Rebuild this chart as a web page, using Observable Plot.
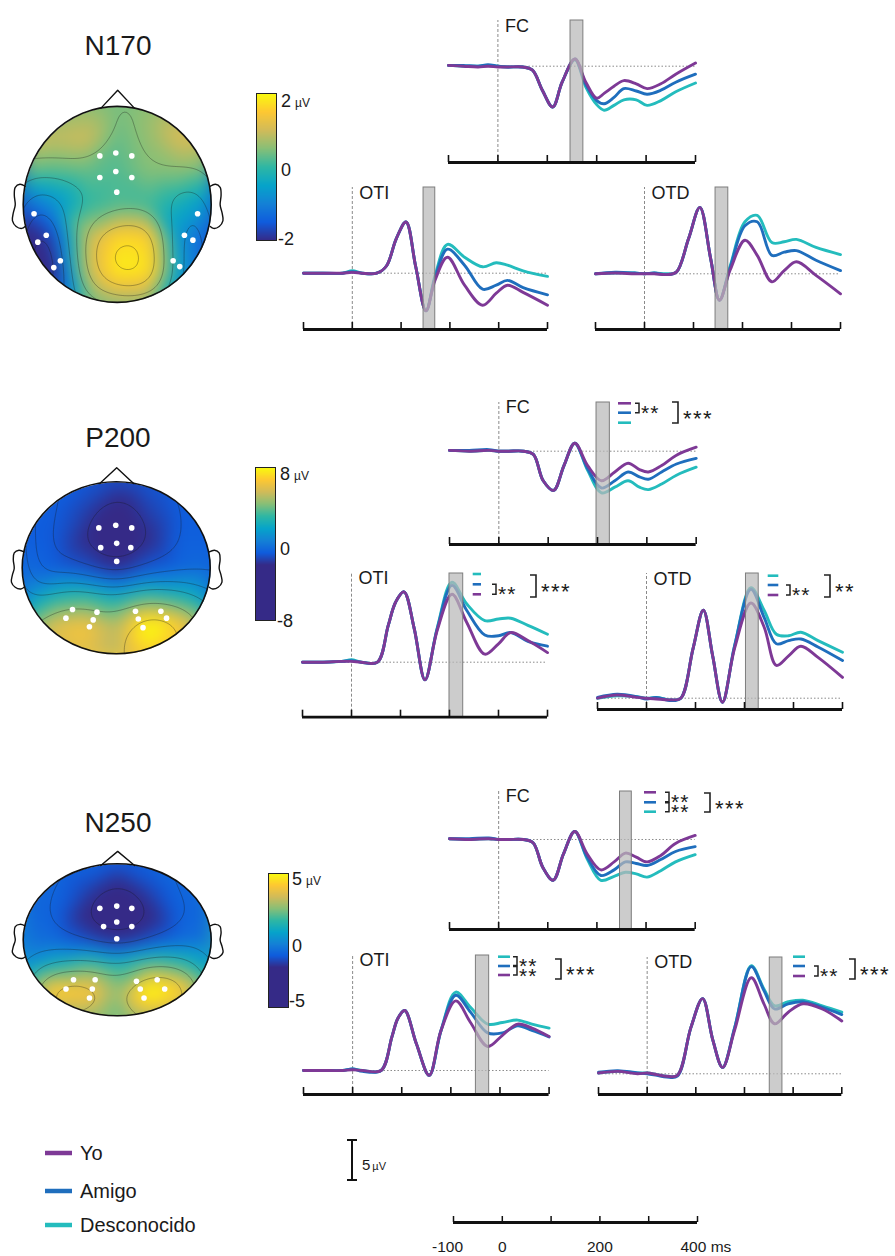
<!DOCTYPE html>
<html><head><meta charset="utf-8">
<script src="https://cdn.jsdelivr.net/npm/d3@7"></script>
<script src="https://cdn.jsdelivr.net/npm/@observablehq/plot@0.6"></script>
<style>
html,body{margin:0;padding:0;background:#fff;}
#root{position:relative;width:895px;height:1256px;overflow:hidden;font-family:Arial,"Liberation Sans",Helvetica,sans-serif;color:#1a1a1a;}
#root svg{overflow:visible;}
</style></head><body><div id="root"></div>
<script>
// ================= DATA =================
const conditions = ["Yo", "Amigo", "Desconocido"];
const conditionColors = ["#7e3996", "#1f6ebd", "#24bcbd"];
const timeTicks = [-100, 0, 100, 200, 300, 400];
const timeTickLabels = ["-100", "0", "", "200", "", "400 ms"];

// ---- N170 ----
const t_N170_FC = [-100,-70,-40,-20,0,20,50,70,90,111,130,156,178,200,215,235,255,280,302,330,360,400];
const yo_N170_FC =    [0.1,0,-0.1,0,-0.1,-0.1,-0.1,-0.5,-3.0,-5.1,-2.0,0.9,-2.0,-4.0,-3.4,-2.5,-1.8,-2.2,-2.8,-2.2,-1.0,0.4];
const amigo_N170_FC = [0.1,0.1,0,0.2,0,-0.1,-0.1,-0.5,-3.0,-5.1,-2.0,0.9,-2.3,-4.3,-4.7,-3.9,-2.8,-3.1,-3.5,-3.0,-2.0,-1.0];
const desc_N170_FC =  [0.1,0,0,0.1,0,-0.1,-0.1,-0.5,-3.0,-5.1,-2.0,0.8,-2.6,-4.8,-5.5,-4.9,-4.2,-4.2,-4.9,-4.3,-3.2,-2.1];
const win_N170_FC = [147, 173];

const t_N170_OTI = [-100,-60,-20,0,20,50,70,90,110,130,151,170,195,230,267,295,318,350,400];
const yo_N170_OTI =    [0,0,0,0.1,0,0,0.9,4.3,6.4,0.8,-4.7,-0.8,2.0,-1.5,-4.0,-2.5,-1.5,-2.4,-4.0];
const amigo_N170_OTI = [0,0,0,0.2,0,0,0.9,4.3,6.4,0.8,-4.7,-0.5,3.0,1.0,-2.0,-1.5,-0.9,-1.8,-2.7];
const desc_N170_OTI =  [0,0,0,0.3,0,0,0.9,4.3,6.4,0.8,-4.7,-0.2,3.6,2.0,0.8,1.3,1.0,0.3,-0.4];
const win_N170_OTI = [146, 170];

const t_N170_OTD = [-100,-60,-20,0,20,45,65,90,113,135,153,175,205,230,260,285,310,350,400];
const yo_N170_OTD =    [0,0.1,0,0,0,-0.1,0.2,4.4,8.3,1.9,-3.3,0.5,4.2,2.3,-1.0,0.4,1.5,-0.2,-2.5];
const amigo_N170_OTD = [0,0.2,0.1,0,0.1,-0.1,0.2,4.4,8.3,1.9,-3.3,0.8,6.0,6.5,2.3,2.7,2.9,1.7,0.4];
const desc_N170_OTD =  [0,0.1,0.1,0,0.1,0,0.2,4.4,8.3,1.9,-3.3,1.0,6.5,7.3,3.9,4.0,4.3,3.3,2.4];
const win_N170_OTD = [145, 171];

// ---- P200 ----
const t_P200_FC = [-100,-60,-20,0,20,50,70,90,111,132,154,180,208,235,262,285,303,330,360,400];
const yo_P200_FC =    [0.1,0,0.1,0,0,0,-0.4,-3.7,-4.9,-1.8,1.0,-1.8,-3.7,-2.6,-1.5,-2.3,-2.6,-1.8,-0.5,0.5];
const amigo_P200_FC = [0.1,0.1,0.2,0,0,0,-0.4,-3.7,-4.9,-1.8,1.0,-2.2,-4.6,-3.7,-2.6,-3.2,-3.5,-2.6,-1.6,-0.9];
const desc_P200_FC =  [0.1,0,0.1,0,0,0,-0.4,-3.7,-4.9,-1.8,1.0,-2.4,-5.2,-4.5,-3.7,-4.5,-4.8,-4.1,-3.0,-2.0];
const win_P200_FC = [198, 225];

const t_P200_OTI = [-100,-60,-20,0,20,53,75,90,107,128,150,175,205,235,272,300,325,360,400];
const yo_P200_OTI =    [0,0,0.1,0.1,0,0,4.6,7.5,8.8,4.2,-2.2,4.0,8.5,5.0,1.0,2.3,3.7,2.7,1.2];
const amigo_P200_OTI = [0,0,0.1,0.2,0,0,4.6,7.5,8.8,4.2,-2.2,4.2,9.6,6.5,3.4,3.3,3.7,2.6,2.0];
const desc_P200_OTI =  [0,0,0.1,0.3,0,0,4.6,7.5,8.8,4.2,-2.2,4.3,10.0,7.3,5.2,5.4,5.5,4.6,3.5];
const win_P200_OTI = [200, 228];

const t_P200_OTD = [-100,-60,-20,0,20,50,70,95,116,135,155,180,213,240,265,290,315,350,400];
const yo_P200_OTD =    [0,0.4,0.1,0,-0.1,-0.2,0,6.2,11.0,5.3,-0.5,6.3,11.9,8.9,4.1,5.3,6.5,5.1,2.6];
const amigo_P200_OTD = [0.1,0.5,0.2,-0.1,0.1,-0.3,0,6.2,11.0,5.3,-0.5,6.6,13.6,10.1,6.8,7.2,7.4,6.4,4.7];
const desc_P200_OTD =  [0,0.3,0.2,0,0.1,-0.2,0,6.2,11.0,5.3,-0.5,6.6,13.8,11.0,8.0,7.8,8.25,7.2,5.75];
const win_P200_OTD = [203, 229];

// ---- N250 ----
const t_N250_FC = [-100,-60,-20,0,20,50,70,90,111,132,155,180,208,235,258,280,302,330,360,400];
const yo_N250_FC =    [0.1,0,0.1,0,0,0,-0.4,-3.5,-5.1,-1.8,1.0,-1.8,-3.8,-2.8,-1.7,-2.2,-2.8,-2.0,-0.5,0.5];
const amigo_N250_FC = [0.1,0.1,0.2,0,0,0,-0.4,-3.5,-5.1,-1.8,1.0,-2.2,-4.5,-3.8,-2.8,-3.0,-3.25,-2.5,-1.5,-0.9];
const desc_N250_FC =  [0.1,0,0.1,0,0,0,-0.4,-3.5,-5.1,-1.8,1.0,-2.4,-5.1,-4.6,-4.1,-4.3,-4.7,-3.9,-2.8,-1.9];
const win_N250_FC = [247, 271];

const t_N250_OTI = [-100,-60,-20,0,20,58,80,92,106,130,156,180,210,240,275,305,336,365,400];
const yo_N250_OTI =    [0,0,0,0.1,0,0,4.2,6.5,7.5,3.3,-0.6,5.0,8.7,6.0,3.0,4.4,5.8,5.3,4.25];
const amigo_N250_OTI = [0,0,0,0.2,-0.1,0,4.2,6.5,7.5,3.3,-0.6,5.0,9.4,7.3,4.7,4.7,5.6,5.0,4.2];
const desc_N250_OTI =  [0,0,0,0.2,0,0,4.2,6.5,7.5,3.3,-0.6,5.0,9.8,7.9,5.8,6.0,6.3,5.8,5.3];
const win_N250_OTI = [251, 278];

const t_N250_OTD = [-100,-60,-20,0,20,40,62,90,114,135,155,180,214,240,262,290,320,360,400];
const yo_N250_OTD =    [0.1,0.3,0,0.1,-0.1,-0.3,-0.2,5.8,9.4,4.2,0.8,5.5,12.0,8.75,6.25,7.7,8.75,8.1,6.6];
const amigo_N250_OTD = [0.2,0.4,0.1,0,-0.2,-0.4,-0.3,5.8,9.4,4.2,0.8,5.8,13.4,10.4,8.1,8.75,9.0,8.3,7.4];
const desc_N250_OTD =  [0.1,0.3,0.1,0.1,-0.1,-0.3,-0.2,5.8,9.4,4.2,0.8,5.8,13.5,10.6,8.5,9.0,9.2,8.5,7.7];
const win_N250_OTD = [252, 278];

// ---- topographic maps: 7x7 grid of µV values (rows top -> bottom) ----
const topoX = [-1, -0.667, -0.333, 0, 0.333, 0.667, 1];
const topoY = [1, 0.667, 0.333, 0, -0.333, -0.667, -1];
const topo_N170 = [
  [0.3, 0.5, 0.6, 0.4, 0.6, 0.7, 0.5],
  [1.0, 0.9, 1.0, 0.3, 0.6, 1.1, 1.0],
  [0.3, 0.2, 0.3, 0.2, 0.5, 0.5, 0.3],
  [-1.3, -0.8, 0.0, 0.2, 0.1, -0.3, -0.8],
  [-2.4, -1.6, 0.9, 1.7, 1.6, -0.8, -1.6],
  [-2.6, -2.0, 0.9, 1.9, 1.8, -0.6, -1.7],
  [-2.0, -1.5, 0.2, 0.7, 0.6, -0.8, -1.4]
];
const topo_P200 = [
  [-0.8, -0.8, -1.0, -1.5, -1.0, -0.8, -0.8],
  [-0.8, -0.9, -1.6, -2.8, -1.6, -0.9, -0.8],
  [-0.8, -1.0, -2.2, -3.5, -2.2, -0.8, -0.8],
  [-0.5, -0.8, -1.2, -2.2, -1.0, -0.6, -0.5],
  [1.0, 2.5, 3.0, 2.0, 3.2, 2.5, 1.0],
  [3.5, 6.0, 6.5, 5.0, 8.5, 7.0, 3.5],
  [3.5, 5.5, 6.0, 5.0, 7.0, 6.0, 3.5]
];
const topo_N250 = [
  [-0.8, -0.8, -0.9, -1.2, -0.9, -0.8, -0.8],
  [-0.8, -0.9, -1.5, -2.5, -1.5, -0.9, -0.8],
  [-0.8, -1.0, -2.2, -3.5, -2.2, -1.0, -0.8],
  [-0.6, -0.8, -1.3, -2.0, -1.3, -0.8, -0.6],
  [0.2, 1.2, 2.0, 1.3, 2.2, 1.7, 0.2],
  [1.5, 4.5, 4.2, 2.5, 5.5, 4.5, 1.5],
  [0.8, 2.5, 2.8, 1.8, 3.2, 2.5, 0.8]
];
// electrode positions (normalized head coordinates)
const elec_N170 = [[-0.19,0.50],[-0.02,0.53],[0.15,0.50],[-0.19,0.28],[-0.02,0.34],[0.15,0.28],[-0.01,0.13],
  [-0.89,-0.09],[-0.76,-0.31],[-0.85,-0.38],[-0.61,-0.57],[-0.68,-0.64],
  [0.85,-0.09],[0.71,-0.31],[0.80,-0.36],[0.59,-0.57],[0.66,-0.63]];
const elec_P200 = [[-0.19,0.47],[-0.01,0.50],[0.16,0.47],[-0.17,0.24],[0,0.29],[0.15,0.24],[0,0.08],
  [-0.47,-0.48],[-0.54,-0.58],[-0.21,-0.51],[-0.25,-0.60],[-0.29,-0.68],
  [0.20,-0.50],[0.23,-0.59],[0.47,-0.50],[0.53,-0.58],[0.28,-0.69]];
const elec_N250 = [[-0.19,0.42],[-0.01,0.45],[0.15,0.42],[-0.15,0.18],[-0.01,0.24],[0.15,0.18],[-0.01,0.02],
  [-0.47,-0.52],[-0.24,-0.52],[-0.55,-0.64],[-0.27,-0.64],[-0.30,-0.76],
  [0.20,-0.54],[0.42,-0.52],[0.24,-0.64],[0.50,-0.64],[0.28,-0.76]];
// head outline parts (normalized)
const headNose = [[-0.18,0.985],[0,1.17],[0.18,0.985]];
const headEarL = [[-0.985,0.19],[-1.04,0.21],[-1.09,0.18],[-1.10,0.10],[-1.09,0.0],[-1.11,-0.08],[-1.12,-0.16],[-1.08,-0.22],[-1.02,-0.24],[-0.985,-0.22]];
const headEarR = headEarL.map(([x, y]) => [-x, y]);

// ================= LAYOUT =================
const root = document.getElementById("root");
const FONT = "Arial, 'Liberation Sans', Helvetica, sans-serif";
const PXUV = 8; // px per µV
const parula = d3.piecewise(d3.interpolateRgb, ["#352a87","#0f5cdd","#1481d6","#06a4ca","#2eb7a4","#87bf77","#d1bb59","#fec832","#f9fb0e"]);
function place(el, left, top) { el.style.position = "absolute"; el.style.left = left + "px"; el.style.top = top + "px"; root.append(el); }

const ERP = {
  N170_FC: [t_N170_FC, yo_N170_FC, amigo_N170_FC, desc_N170_FC, win_N170_FC],
  N170_OTI: [t_N170_OTI, yo_N170_OTI, amigo_N170_OTI, desc_N170_OTI, win_N170_OTI],
  N170_OTD: [t_N170_OTD, yo_N170_OTD, amigo_N170_OTD, desc_N170_OTD, win_N170_OTD],
  P200_FC: [t_P200_FC, yo_P200_FC, amigo_P200_FC, desc_P200_FC, win_P200_FC],
  P200_OTI: [t_P200_OTI, yo_P200_OTI, amigo_P200_OTI, desc_P200_OTI, win_P200_OTI],
  P200_OTD: [t_P200_OTD, yo_P200_OTD, amigo_P200_OTD, desc_P200_OTD, win_P200_OTD],
  N250_FC: [t_N250_FC, yo_N250_FC, amigo_N250_FC, desc_N250_FC, win_N250_FC],
  N250_OTI: [t_N250_OTI, yo_N250_OTI, amigo_N250_OTI, desc_N250_OTI, win_N250_OTI],
  N250_OTD: [t_N250_OTD, yo_N250_OTD, amigo_N250_OTD, desc_N250_OTD, win_N250_OTD]
};

const PANELS = [
  {key:"N170_FC", left:448, right:695, top:20, axis:162, base:65.7, label:"FC"},
  {key:"N170_OTI", left:302.7, right:546.7, top:187, axis:329, base:272.7, label:"OTI"},
  {key:"N170_OTD", left:595, right:840, top:187, axis:329, base:273.3, label:"OTD"},
  {key:"P200_FC", left:449.3, right:696, top:402, axis:544, base:450.7, label:"FC"},
  {key:"P200_OTI", left:301.7, right:546.7, top:573, axis:716.7, base:661.7, label:"OTI"},
  {key:"P200_OTD", left:596.7, right:841.7, top:573, axis:709, base:697.7, label:"OTD"},
  {key:"N250_FC", left:449.3, right:695, top:791, axis:929, base:839, label:"FC"},
  {key:"N250_OTI", left:302.7, right:548.3, top:955, axis:1094, base:1070, label:"OTI"},
  {key:"N250_OTD", left:597.7, right:841, top:957, axis:1094, base:1073.3, label:"OTD"}
];

function erpPanel(L) {
  const [T, yo, amigo, desc, win] = ERP[L.key];
  const pad = 4;
  const width = L.right - L.left + 2 * pad;
  const height = L.axis - L.top + 4;
  const vTop = (L.base - L.top) / PXUV, vAxis = (L.base - L.axis) / PXUV;
  const series = [yo, amigo, desc].map(vals => T.map((t, i) => ({t, v: vals[i]})));
  const lineOpts = (i) => ({x: "t", y: "v", stroke: conditionColors[i], strokeWidth: 2.9, curve: "catmull-rom", strokeLinejoin: "round"});
  const plot = Plot.plot({
    width, height, marginLeft: pad, marginRight: pad, marginTop: 0, marginBottom: 4,
    style: {background: "none", overflow: "visible", fontFamily: FONT},
    x: {domain: [-100, 400], axis: null},
    y: {domain: [vAxis, vTop], axis: null},
    marks: [
      Plot.ruleY([0], {x1: -100, x2: 400, stroke: "#8a8a8a", strokeWidth: 1, strokeDasharray: "1.5,2"}),
      Plot.ruleX([0], {y1: vAxis, y2: vTop, stroke: "#8a8a8a", strokeWidth: 1, strokeDasharray: "3,2"}),
      Plot.line(series[2], lineOpts(2)),
      Plot.line(series[1], lineOpts(1)),
      Plot.line(series[0], lineOpts(0)),
      Plot.rect([win], {x1: d => d[0], x2: d => d[1], y1: vAxis, y2: vTop, fill: "#b9b9b9", fillOpacity: 0.72, stroke: "#7d7d7d", strokeWidth: 1}),
      Plot.ruleY([vAxis], {x1: -100, x2: 400, stroke: "#111", strokeWidth: 2.8}),
      Plot.ruleX(timeTicks, {y1: vAxis, y2: vAxis + 7 / PXUV, stroke: "#111", strokeWidth: 1.6}),
      Plot.text([L.label], {x: 0, y: vTop, dx: 7, dy: 11, text: d => d, textAnchor: "start", lineAnchor: "bottom", fontSize: 18, fill: "#1a1a1a"})
    ]
  });
  place(plot, L.left - pad, L.top);
}
PANELS.forEach(erpPanel);

// ---- topographic maps ----
const MAPS = [
  {name:"N170", grid: topo_N170, elec: elec_N170, lo:-2, hi:2, thr:[-1.5,-1,-0.5,0,0.5,1,1.5], cx:117, cy:204, rx:94, ry:98,
   bar:{x1:256, x2:276, y1:93, y2:240, min:-2, max:2}},
  {name:"P200", grid: topo_P200, elec: elec_P200, lo:-2.2, hi:8, thr:[-3,-2,-1,0,1,2,4,6], cx:116, cy:568, rx:94, ry:86,
   bar:{x1:255, x2:275, y1:467, y2:620, min:-8, max:8}},
  {name:"N250", grid: topo_N250, elec: elec_N250, lo:-2, hi:5, thr:[-3,-2,-1,0,1,2,3,4], cx:117, cy:940, rx:94, ry:76,
   bar:{x1:268, x2:288, y1:873, y2:1007, min:-5, max:5}}
];

function topo(M) {
  const xd = [-1.3, 1.3], yd = [-1.12, 1.3];
  const width = (xd[1] - xd[0]) * M.rx, height = (yd[1] - yd[0]) * M.ry;
  const left = M.cx + xd[0] * M.rx, top = M.cy - yd[1] * M.ry;
  const pts = [];
  M.grid.forEach((row, i) => row.forEach((v, j) => pts.push({x: topoX[j], y: topoY[i], v})));
  const color = {type: "linear", domain: [M.lo, M.hi], interpolate: parula, clamp: true};
  const plot = Plot.plot({
    width, height, margin: 0,
    style: {background: "none", overflow: "visible"},
    x: {domain: xd, axis: null},
    y: {domain: yd, axis: null},
    color,
    marks: [
      Plot.raster(pts, {x: "x", y: "y", fill: "v", interpolate: "barycentric", blur: 7}),
      Plot.contour(pts, {x: "x", y: "y", value: "v", interpolate: "barycentric", blur: 7, thresholds: M.thr, fill: "none", stroke: "#1a1a1a", strokeWidth: 0.6, strokeOpacity: 0.55}),
      Plot.dot(M.elec, {x: d => d[0], y: d => d[1], r: 2.8, fill: "#fff", stroke: null}),
      Plot.line(headNose, {x: d => d[0], y: d => d[1], stroke: "#111", strokeWidth: 1.4}),
      Plot.line(headEarL, {x: d => d[0], y: d => d[1], stroke: "#111", strokeWidth: 1.4, curve: "catmull-rom"}),
      Plot.line(headEarR, {x: d => d[0], y: d => d[1], stroke: "#111", strokeWidth: 1.4, curve: "catmull-rom"})
    ]
  });
  const sx = plot.scale("x"), sy = plot.scale("y");
  const ecx = sx.apply(0), ecy = sy.apply(0), erx = sx.apply(1) - ecx, ery = ecy - sy.apply(1);
  const svg = d3.select(plot);
  const id = "clip-" + M.name;
  svg.insert("defs", ":first-child").append("clipPath").attr("id", id)
    .append("ellipse").attr("cx", ecx).attr("cy", ecy).attr("rx", erx).attr("ry", ery);
  svg.selectAll('g[aria-label="raster"], g[aria-label="contour"]').attr("clip-path", `url(#${id})`);
  svg.append("ellipse").attr("cx", ecx).attr("cy", ecy).attr("rx", erx).attr("ry", ery)
    .attr("fill", "none").attr("stroke", "#111").attr("stroke-width", 1.6);
  place(plot, left, top);

  // colorbar
  const B = M.bar;
  const bw = B.x2 - B.x1, bh = B.y2 - B.y1;
  const bar = Plot.plot({
    width: bw, height: bh, margin: 0,
    style: {background: "none", overflow: "visible"},
    x: {domain: [0, 1], axis: null},
    y: {domain: [B.min, B.max], axis: null},
    color,
    marks: [
      Plot.raster({fill: (x, y) => y, x1: 0, x2: 1, y1: B.min, y2: B.max}),
      Plot.frame({stroke: "#222", strokeWidth: 1})
    ]
  });
  place(bar, B.x1, B.y1);
}
MAPS.forEach(topo);

// ---- bottom time axis ----
const axisPlot = Plot.plot({
  width: 244 + 60, height: 40, marginLeft: 20, marginRight: 40, marginTop: 0, marginBottom: 0,
  style: {background: "none", overflow: "visible", fontFamily: FONT},
  x: {domain: [-100, 400], axis: null},
  y: {domain: [0, 40], range: [0, 40], axis: null},
  marks: [
    Plot.ruleY([6], {x1: -100, x2: 400, stroke: "#111", strokeWidth: 2.8}),
    Plot.ruleX(timeTicks, {y1: 0, y2: 6, stroke: "#111", strokeWidth: 1.5}),
    Plot.text(timeTicks.map((t, i) => ({t, s: timeTickLabels[i]})).filter(d => d.s && d.t > -100 && d.t < 400),
      {x: "t", y: 35, text: "s", fontSize: 15.5, fill: "#1a1a1a", lineAnchor: "bottom"}),
    Plot.text([{t: -100, s: timeTickLabels[0]}], {x: "t", y: 35, text: "s", dx: -6, fontSize: 15.5, fill: "#1a1a1a", lineAnchor: "bottom"}),
    Plot.text([{t: 400, s: timeTickLabels[5]}], {x: "t", y: 35, text: "s", dx: -17, textAnchor: "start", fontSize: 15.5, fill: "#1a1a1a", lineAnchor: "bottom"})
  ]
});
place(axisPlot, 453 - 20, 1216);

// ---- overlay: titles, colorbar labels, legend, scale bar, significance brackets ----
const ov = d3.create("svg").attr("width", 895).attr("height", 1256)
  .style("position", "absolute").style("left", "0px").style("top", "0px")
  .style("font-family", FONT).style("pointer-events", "none");

[["N170", 55], ["P200", 447], ["N250", 832]].forEach(([s, y]) =>
  ov.append("text").attr("x", 118).attr("y", y).attr("text-anchor", "middle").attr("font-size", 28).attr("fill", "#1a1a1a").text(s));

const BARLABELS = [
  {x: 280, top: "2", yTop: 107, y0: 176, bottom: "-2", yBot: 245},
  {x: 279, top: "8", yTop: 480, y0: 555, bottom: "-8", yBot: 627},
  {x: 291, top: "5", yTop: 885, y0: 952, bottom: "-5", yBot: 1007}
];
BARLABELS.forEach(b => {
  const t = ov.append("text").attr("x", b.x + 1).attr("y", b.yTop).attr("font-size", 18).attr("fill", "#1a1a1a");
  t.append("tspan").text(b.top);
  t.append("tspan").attr("font-size", 12).attr("dx", 4).text("µV");
  ov.append("text").attr("x", b.x + 1).attr("y", b.y0).attr("font-size", 18).attr("fill", "#1a1a1a").text("0");
  ov.append("text").attr("x", b.x - 2).attr("y", b.yBot).attr("font-size", 18).attr("fill", "#1a1a1a").text(b.bottom);
});

// legend
const legendY = [1153, 1191, 1225];
conditions.forEach((c, i) => {
  ov.append("line").attr("x1", 45).attr("x2", 72).attr("y1", legendY[i]).attr("y2", legendY[i])
    .attr("stroke", conditionColors[i]).attr("stroke-width", 4.5);
  ov.append("text").attr("x", 80).attr("y", legendY[i] + 7).attr("font-size", 20).attr("fill", "#1a1a1a").text(c);
});

// scale bar 5 µV
ov.append("path").attr("d", `M347,1140H357M352,1140V${1140 + 5 * PXUV}M347,${1140 + 5 * PXUV}H357`)
  .attr("stroke", "#111").attr("stroke-width", 2).attr("fill", "none");
const sb = ov.append("text").attr("x", 362).attr("y", 1170).attr("font-size", 15).attr("fill", "#1a1a1a");
sb.append("tspan").text("5");
sb.append("tspan").attr("font-size", 11).attr("dx", 2).text("µV");

// significance annotations: mini legend lines + brackets
const ANN = [
  {mx: [618, 631], lines: [[403.3, 0], [412.7, 1], [422.7, 2]], small: [[639, 403.3, 412.7]], stars: ["**"], big: [678, 402, 423, "***"]},
  {mx: [472.7, 481], lines: [[574, 2], [584.3, 1], [594.3, 0]], small: [[496, 584.3, 594.3]], stars: ["**"], big: [536, 575, 597, "***"]},
  {mx: [767.7, 778.3], lines: [[575.7, 2], [585, 1], [595, 0]], small: [[790, 585, 595]], stars: ["**"], big: [830, 575, 597, "**"]},
  {mx: [644, 656], lines: [[792.3, 0], [802.3, 1], [811.7, 2]], small: [[669, 792.3, 801.8], [669, 802.8, 811.7]], stars: ["**", "**"], big: [710, 793, 812, "***"]},
  {mx: [498, 510], lines: [[956.7, 2], [966, 1], [975, 0]], small: [[517, 956.7, 965.5], [517, 966.5, 975]], stars: ["**", "**"], big: [561, 959, 979, "***"]},
  {mx: [793, 805], lines: [[956.7, 2], [966, 1], [976, 0]], small: [[818, 966, 976]], stars: ["**"], big: [855, 959, 979, "***"]}
];
ANN.forEach(a => {
  a.lines.forEach(([y, ci]) => ov.append("line").attr("x1", a.mx[0]).attr("x2", a.mx[1]).attr("y1", y).attr("y2", y)
    .attr("stroke", conditionColors[ci]).attr("stroke-width", 2.6));
  a.small.forEach(([x, y1, y2]) =>
    ov.append("path").attr("d", `M${x - 4},${y1}H${x}V${y2}H${x - 4}`).attr("fill", "none").attr("stroke", "#222").attr("stroke-width", 1.5));
  const st = ov.append("text").attr("font-size", 21).attr("letter-spacing", 1).attr("fill", "#1a1a1a");
  a.small.forEach(([x, y1, y2], i) => st.append("tspan").attr("x", x + 2).attr("y", (y1 + y2) / 2 + 12).text(a.stars[i]));
  const [x, y1, y2, s] = a.big;
  ov.append("path").attr("d", `M${x - 6},${y1}H${x}V${y2}H${x - 6}`).attr("fill", "none").attr("stroke", "#222").attr("stroke-width", 1.6);
  ov.append("text").attr("x", x + 5).attr("y", (y1 + y2) / 2 + 13).attr("font-size", 22).attr("letter-spacing", 1.5).attr("fill", "#1a1a1a").text(s);
});
root.append(ov.node());
</script></body></html>
